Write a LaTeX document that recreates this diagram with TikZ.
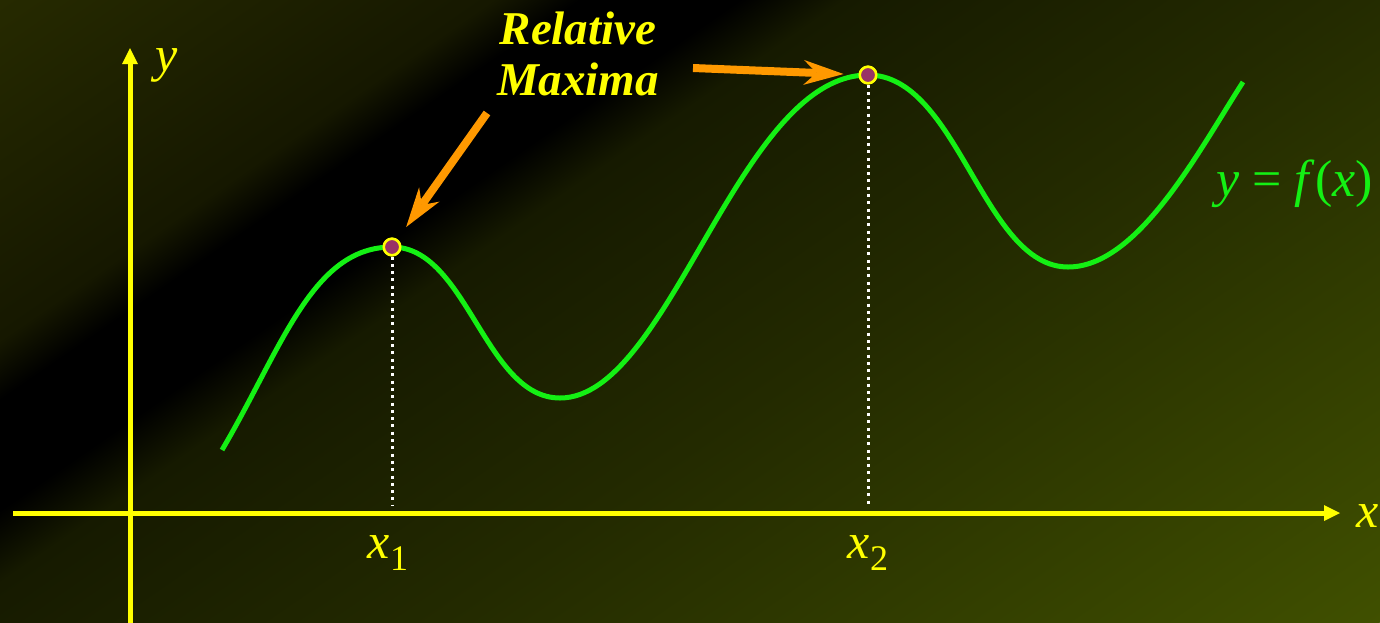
\documentclass[tikz,border=0pt]{standalone}
\usepackage{fontspec}
\setmainfont{Liberation Serif}
\usetikzlibrary{arrows.meta, positioning}
\definecolor{AxisYellow}{RGB}{255,255,0}
\definecolor{CurveGreen}{RGB}{20,240,20}
\definecolor{MaxPurple}{RGB}{153,51,102}
\definecolor{PointerOrange}{RGB}{255,153,0}
\definecolor{bgA}{RGB}{38,42,0}
\definecolor{bgB}{RGB}{22,24,0}
\definecolor{bgC}{RGB}{22,26,0}
\definecolor{bgD}{RGB}{35,42,0}
\definecolor{bgE}{RGB}{64,80,0}
\pgfdeclarehorizontalshading{bgband}{100bp}{color(0bp)=(bgA); color(25bp)=(bgA); color(35.8bp)=(bgB); color(37.7bp)=(black); color(41.2bp)=(black); color(43.5bp)=(bgC); color(54.3bp)=(bgD); color(75bp)=(bgE); color(100bp)=(bgE)}

\begin{document}
\begin{tikzpicture}[x=1pt, y=-1pt,
  axis/.style={line width=5pt, draw=AxisYellow, -{Triangle[length=16pt, width=16pt, line width=0pt]}},
  curve/.style={line width=5pt, draw=CurveGreen},
  maxpt/.style={circle, inner sep=0pt, minimum size=16.5pt, fill=MaxPurple, draw=AxisYellow, line width=2.5pt},
  guide/.style={draw=white, line width=3pt, dash pattern=on 3pt off 4.3pt},
  pointer/.style={draw=PointerOrange, line width=8pt, shorten >=15pt, -{Stealth[length=40pt, width=25pt, inset=13pt, line width=0pt]}},
  axlabel/.style={text=AxisYellow, inner sep=0pt, font=\fontsize{50}{50}\selectfont\itshape}]
\useasboundingbox (0,0) rectangle (1380,622);
% background
\begin{scope}
  \clip (0,0) rectangle (1380,622);
  \begin{scope}[transform canvas={rotate=-55.4}]
    \shade[shading=bgband] (0,-1600) rectangle (1296,1600);
  \end{scope}
\end{scope}

\coordinate (ybot) at (130,626);
\coordinate (ytop) at (130,48);
\coordinate (xleft) at (13,513);
\coordinate (xright) at (1340,513);
\coordinate (foot1) at (392,506);
\coordinate (foot2) at (868,506);
\coordinate (tail1) at (487,113);
\coordinate (tail2) at (693,68);

\node[maxpt] (max1) at (392,247) {};
\node[maxpt] (max2) at (868,75) {};

\draw[guide] (max1) -- (foot1);
\draw[guide] (max2) -- (foot2);

\draw[axis] (xleft) -- (xright);
\draw[axis] (ybot) -- (ytop);

\draw[curve] (222,450) .. controls (282,348) and (312,247) .. (392,247)
  .. controls (467,247) and (485,398) .. (560,398)
  .. controls (670,398) and (738,75) .. (868,75)
  .. controls (958,75) and (983,267) .. (1068,267)
  .. controls (1138,267) and (1198,152) .. (1243,82);

\node[maxpt] at (max1) {};
\node[maxpt] at (max2) {};

\node[axlabel, anchor=base west] (ylab) at (155,71) {y};
\node[axlabel, anchor=base west] (xlab) at (1356,527) {x};
\node[axlabel, anchor=base] (x1lab) at (388,558) {x\raisebox{-12pt}{\upshape\fontsize{36}{36}\selectfont 1}};
\node[axlabel, anchor=base] (x2lab) at (868,558) {x\raisebox{-12pt}{\upshape\fontsize{36}{36}\selectfont 2}};
\node[text=CurveGreen, inner sep=0pt, anchor=base west, font=\fontsize{52}{52}\selectfont] (fxlab) at (1216,196) {\textit{y} = \textit{f}(\textit{x})};

\node[text=AxisYellow, inner sep=0pt, anchor=south, align=center, font=\fontsize{47}{51}\selectfont\bfseries\itshape] (maxlabel) at (578,96) {Relative\\Maxima};

\draw[pointer] (tail1) -- (max1);
\draw[pointer] (tail2) -- (max2);
\end{tikzpicture}
\end{document}
